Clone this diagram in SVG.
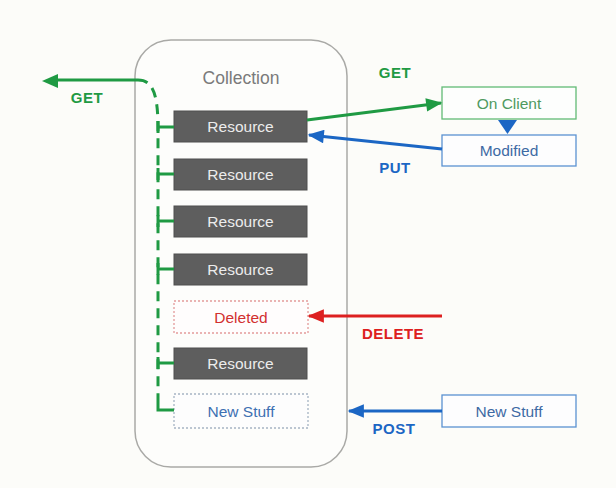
<svg xmlns="http://www.w3.org/2000/svg" width="616" height="488" viewBox="0 0 616 488">
  <defs>
    <style>
      text { font-family: "Liberation Sans", Arial, sans-serif; text-anchor: middle; }
      .res rect { fill: #5e5e5e; stroke: #4e4e4e; stroke-width: 1; }
      .res text { fill: #ececec; font-size: 15.5px; }
      .box { font-size: 15.5px; }
      .verb { font-weight: bold; font-size: 15px; letter-spacing: 0.5px; }
      .g { fill: #1f9a43; }
      .b { fill: #1b66c4; }
      .r { fill: #dd2020; }
      .dash { fill: none; stroke: #1f9a43; stroke-width: 3; stroke-dasharray: 10 7; }
      .tick { fill: none; stroke: #1f9a43; stroke-width: 3; }
    </style>
    <marker id="ah-green" viewBox="0 0 12 10" refX="11" refY="5" markerWidth="6" markerHeight="4.5" markerUnits="strokeWidth" orient="auto">
      <path d="M0 0 L12 5 L0 10 Z" fill="#1f9a43"/>
    </marker>
    <marker id="ah-blue" viewBox="0 0 12 10" refX="11" refY="5" markerWidth="6" markerHeight="4.5" markerUnits="strokeWidth" orient="auto">
      <path d="M0 0 L12 5 L0 10 Z" fill="#1b66c4"/>
    </marker>
    <marker id="ah-red" viewBox="0 0 12 10" refX="11" refY="5" markerWidth="6" markerHeight="4.5" markerUnits="strokeWidth" orient="auto">
      <path d="M0 0 L12 5 L0 10 Z" fill="#dd2020"/>
    </marker>
  </defs>

  <rect width="616" height="488" fill="#fcfcf9"/>

  <!-- collection container -->
  <g id="collection">
    <rect x="135" y="40" width="212" height="427" rx="36" ry="36" fill="#fdfdfb" stroke="#a9a9a6" stroke-width="1.5"/>
    <text x="241" y="84" font-size="17.5" fill="#7a7a7a">Collection</text>
  </g>

  <g id="res1" class="res"><rect x="174" y="111" width="133" height="31"/><text x="240.5" y="132">Resource</text></g>
  <g id="res2" class="res"><rect x="174" y="159" width="133" height="31"/><text x="240.5" y="180">Resource</text></g>
  <g id="res3" class="res"><rect x="174" y="206" width="133" height="31"/><text x="240.5" y="227">Resource</text></g>
  <g id="res4" class="res"><rect x="174" y="254" width="133" height="31"/><text x="240.5" y="275">Resource</text></g>
  <g id="deleted">
    <rect x="174" y="301" width="134" height="32" fill="#fffdfd" stroke="#e49a9a" stroke-width="1.3" stroke-dasharray="2 2"/>
    <text class="box" x="241" y="322.5" fill="#d23030">Deleted</text>
  </g>
  <g id="res5" class="res"><rect x="174" y="348" width="133" height="31"/><text x="240.5" y="369">Resource</text></g>
  <g id="newstuff-in">
    <rect x="174" y="394" width="134" height="34" fill="#fdfdfd" stroke="#a6b4c4" stroke-width="1.3" stroke-dasharray="2 2"/>
    <text class="box" x="241" y="416.5" fill="#3d70b2">New Stuff</text>
  </g>

  <!-- client side boxes -->
  <g id="onclient">
    <rect x="442" y="87" width="134" height="32" fill="#fdfefd" stroke="#62bb76" stroke-width="1.3"/>
    <text class="box" x="509" y="108.5" fill="#4f9a5f">On Client</text>
  </g>
  <g id="modified">
    <rect x="442" y="135" width="134" height="31" fill="#fdfdfe" stroke="#5b92d2" stroke-width="1.3"/>
    <text class="box" x="509" y="156" fill="#3d6aa4">Modified</text>
  </g>
  <g id="newstuff-out">
    <rect x="442" y="395" width="134" height="32" fill="#fdfdfe" stroke="#5b92d2" stroke-width="1.3"/>
    <text class="box" x="509" y="416.5" fill="#3d6aa4">New Stuff</text>
  </g>

  <!-- connectors -->
  <g id="connectors">
    <!-- collection GET: leftward arrow feeding from the dashed spine -->
    <path d="M138 80 H56" fill="none" stroke="#1f9a43" stroke-width="3"/>
    <path d="M42 81 L58 74 L58 88 Z" fill="#1f9a43"/>
    <path class="dash" d="M138 80 C152 80 158 92 158 128 V398"/>
    <path class="tick" d="M158 121 V133 M158 127 H174"/>
    <path class="tick" d="M158 168 V180 M158 174 H174"/>
    <path class="tick" d="M158 215 V227 M158 221 H174"/>
    <path class="tick" d="M158 263 V275 M158 269 H174"/>
    <path class="tick" d="M158 357 V369 M158 363 H174"/>
    <path class="tick" d="M158 398 V410 H174"/>

    <!-- GET to client -->
    <line x1="307" y1="120" x2="441" y2="103" stroke="#1f9a43" stroke-width="3" marker-end="url(#ah-green)"/>
    <!-- PUT back -->
    <line x1="442" y1="149" x2="309" y2="135" stroke="#1b66c4" stroke-width="3" marker-end="url(#ah-blue)"/>
    <!-- on client to modified -->
    <path d="M498 120 L517 120 L507.5 134 Z" fill="#1b66c4"/>
    <!-- DELETE -->
    <line x1="442" y1="316" x2="309" y2="316" stroke="#dd2020" stroke-width="3" marker-end="url(#ah-red)"/>
    <!-- POST -->
    <line x1="442" y1="411" x2="349" y2="411" stroke="#1b66c4" stroke-width="3" marker-end="url(#ah-blue)"/>
  </g>

  <!-- verb labels -->
  <text class="verb g" x="87" y="103">GET</text>
  <text class="verb g" x="395" y="78">GET</text>
  <text class="verb b" x="395" y="173">PUT</text>
  <text class="verb r" x="393" y="339">DELETE</text>
  <text class="verb b" x="394" y="434">POST</text>
</svg>
